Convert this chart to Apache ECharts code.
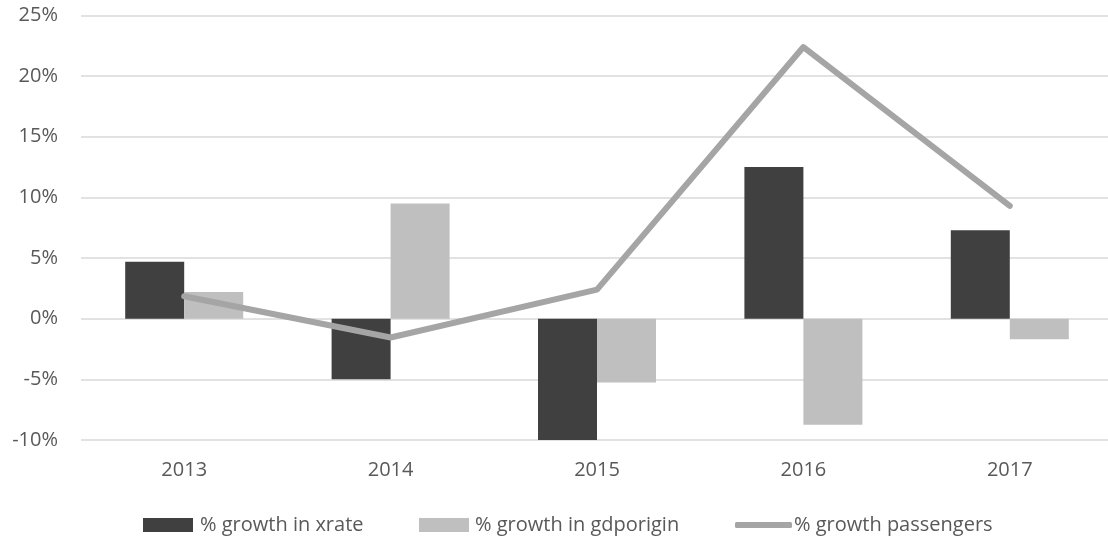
<!DOCTYPE html>
<html><head><meta charset="utf-8">
<script src="https://cdn.jsdelivr.net/npm/echarts@6/dist/echarts.min.js"></script>
<style>html,body{margin:0;padding:0;background:#fff;overflow:hidden;width:1108px;height:541px}#c{width:1120px;height:541px}</style>
</head><body><div id="c"></div>
<script>
const categories = ['2013','2014','2015','2016','2017'];
const xrate = [4.7, -5.0, -10.0, 12.5, 7.3];
const gdporigin = [2.2, 9.5, -5.25, -8.75, -1.7];
const passengers = [1.85, -1.55, 2.4, 22.4, 9.3];
const yTicks = [-10, -5, 0, 5, 10, 15, 20, 25];

const chart = echarts.init(document.getElementById('c'), null, {renderer:'canvas'});
const font = "'Segoe UI','Open Sans','DejaVu Sans',sans-serif";
const legendText = {fontFamily:font, fontSize:20, color:'#595959'};
function legendAt(left, name, w, h, icon, textPad){
  return {
    top:515, left:left, padding:0, itemWidth:w, itemHeight:h, icon:icon,
    textStyle:Object.assign({padding:[0,0,0,textPad]}, legendText),
    data:[name]
  };
}
chart.setOption({
  animation:false,
  backgroundColor:'#fff',
  grid:{left:81, top:15.5, width:1032, height:424.5, containLabel:false},
  legend:[
    legendAt(143, '% growth in xrate', 50, 14, 'rect', 2),
    legendAt(419, '% growth in gdporigin', 50, 14, 'rect', 1),
    legendAt(735, '% growth passengers', 57, 6, 'roundRect', -3)
  ],
  xAxis:{
    type:'category', data:categories,
    axisLine:{show:false}, axisTick:{show:false},
    axisLabel:{fontFamily:font, fontSize:20, color:'#595959', margin:20}
  },
  yAxis:{
    type:'value', min:yTicks[0], max:yTicks[yTicks.length-1], interval:5,
    axisLine:{show:false}, axisTick:{show:false},
    splitLine:{lineStyle:{color:'#d9d9d9', width:1.5}},
    axisLabel:{fontFamily:font, fontSize:20, color:'#595959', margin:23, formatter:v=>v+'%'}
  },
  series:[
    {name:'% growth in xrate', type:'bar', data:xrate, barWidth:59, barGap:'0%', itemStyle:{color:'#404040'}},
    {name:'% growth in gdporigin', type:'bar', data:gdporigin, barWidth:59, itemStyle:{color:'#bfbfbf'}},
    {name:'% growth passengers', type:'line', data:passengers, symbol:'none', lineStyle:{color:'#a5a5a5', width:6, cap:'round', join:'round'}, itemStyle:{color:'#a5a5a5'}}
  ]
});
</script></body></html>
